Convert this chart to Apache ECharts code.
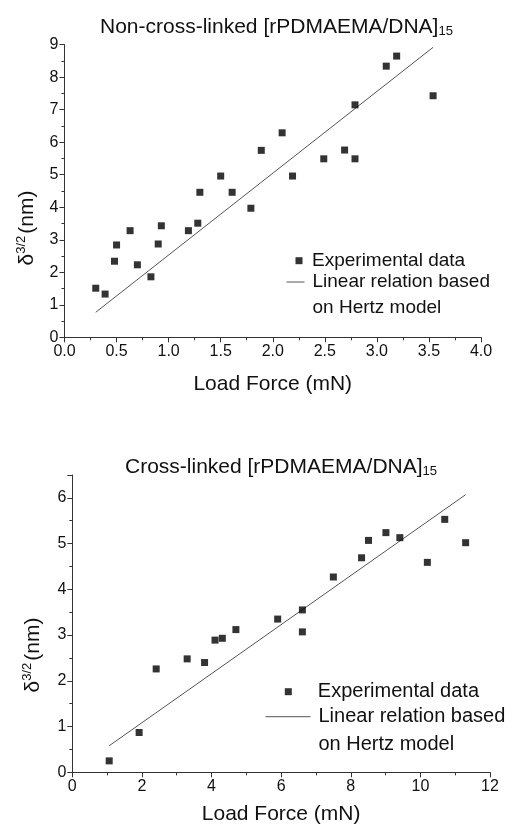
<!DOCTYPE html>
<html>
<head>
<meta charset="utf-8">
<script src="https://cdn.jsdelivr.net/npm/echarts@6/dist/echarts.min.js"></script>
<style>
html,body{margin:0;padding:0;background:#fff;}
#c{width:512px;height:829px;}
</style>
</head>
<body>
<div id="c"></div>
<script>
// Top panel: Non-cross-linked
const topLoad = [0.30,0.39,0.48,0.50,0.63,0.70,0.83,0.90,0.93,1.19,1.28,1.30,1.50,1.61,1.79,1.89,2.09,2.19,2.49,2.69,2.79,2.79,3.09,3.19,3.54];
const topDelta = [1.51,1.33,2.34,2.84,3.28,2.23,1.86,2.87,3.43,3.28,3.51,4.46,4.96,4.46,3.97,5.75,6.29,4.96,5.49,5.76,5.49,7.15,8.34,8.65,7.43];
const topFitLoad = [0.30,3.54];
const topFitDelta = [0.77,8.92];
// Bottom panel: Cross-linked
const botLoad = [1.06,1.92,2.41,3.30,3.80,4.10,4.31,4.70,5.90,6.61,6.61,7.50,8.31,8.51,9.01,9.41,10.2,10.7,11.3];
const botDelta = [0.25,0.87,2.26,2.48,2.40,2.89,2.93,3.12,3.35,3.55,3.07,4.27,4.69,5.07,5.24,5.13,4.59,5.53,5.02];
const botFitLoad = [1.06,11.3];
const botFitDelta = [0.58,6.07];

const titles = ['Non-cross-linked [rPDMAEMA/DNA]', 'Cross-linked [rPDMAEMA/DNA]'];
const titleSub = '15';
const xName = 'Load Force (mN)';
const seriesNames = ['Experimental data', 'Linear relation based on Hertz model'];

const FONT = 'Liberation Sans, Arial, sans-serif';
const zip = (a, b) => a.map((v, i) => [v, b[i]]);

function xAxis(gi, max, interval, gap, fmt) {
  return {
    type: 'value', gridIndex: gi, min: 0, max: max, interval: interval,
    name: xName, nameLocation: 'middle', nameGap: gap,
    nameTextStyle: {fontFamily: FONT, fontSize: 21, color: '#111'},
    axisLine: {lineStyle: {color: '#333', width: 1}},
    axisTick: {length: 5, lineStyle: {color: '#333'}},
    minorTick: {show: true, splitNumber: 2, length: 3, lineStyle: {color: '#333'}},
    splitLine: {show: false},
    axisLabel: {fontFamily: FONT, fontSize: 16, color: '#111', margin: 6, formatter: fmt}
  };
}
function yAxis(gi, max) {
  return {
    type: 'value', gridIndex: gi, min: 0, max: max, interval: 1,
    axisLine: {show: true, lineStyle: {color: '#333', width: 1}},
    axisTick: {show: true, length: 5, lineStyle: {color: '#333'}},
    minorTick: {show: true, splitNumber: 2, length: 3, lineStyle: {color: '#333'}},
    splitLine: {show: false},
    axisLabel: {fontFamily: FONT, fontSize: 16, color: '#111', margin: 6,
      formatter: v => (Math.abs(v - Math.round(v)) < 1e-9 ? String(Math.round(v)) : '')}
  };
}
function scatter(gi, name, data) {
  return {type: 'scatter', name: name, xAxisIndex: gi, yAxisIndex: gi, data: data,
    symbol: 'rect', symbolSize: 7, itemStyle: {color: '#000'}, z: 3};
}
function fit(gi, name, data) {
  return {type: 'line', name: name, xAxisIndex: gi, yAxisIndex: gi, data: data,
    symbol: 'none', lineStyle: {color: '#555', width: 1}, itemStyle: {color: '#555'}, z: 2};
}
// legend for the scatter entry
function legendPts(left, top, fs, lh, padLeft) {
  return {
    orient: 'vertical', left: left, top: top, itemWidth: 7, itemHeight: 7,
    padding: 0, selectedMode: false,
    data: [{name: seriesNames[0], icon: 'rect'}],
    textStyle: {fontFamily: FONT, fontSize: fs, color: '#111', lineHeight: lh, padding: [0, 0, 0, padLeft]}
  };
}
// legend for the fitted-line entry (two-line text, icon level with first line)
function legendLine(left, top, iw, fs, lh, padLeft) {
  return {
    orient: 'vertical', left: left, top: top, itemWidth: iw, itemHeight: 2,
    padding: 0, selectedMode: false,
    itemStyle: {opacity: 0},
    lineStyle: {color: '#555', width: 1, opacity: 1},
    data: [{name: seriesNames[1]}],
    formatter: n => '\n' + n.replace(' on Hertz', '\non Hertz'),
    textStyle: {fontFamily: FONT, fontSize: fs, color: '#111', lineHeight: lh, padding: [0, 0, 0, padLeft]}
  };
}
function titleRich(text, left, top) {
  return {
    text: '{t|' + text + '}{s|' + titleSub + '}', left: left, top: top, padding: 0,
    textStyle: {fontWeight: 'normal', rich: {
      t: {fontFamily: FONT, fontSize: 21, fontWeight: 'normal', color: '#111', lineHeight: 22},
      s: {fontFamily: FONT, fontSize: 13, fontWeight: 'normal', color: '#111', lineHeight: 12, padding: [26, 0, 0, 0], verticalAlign: 'bottom'}
    }}
  };
}
function yName(x, y) {
  return {
    type: 'text', x: x, y: y, rotation: Math.PI / 2,
    style: {
      text: '{d|δ}{s|3/2}{n|(nm)}', align: 'center', verticalAlign: 'middle',
      rich: {
        d: {fontFamily: FONT, fontSize: 21, fill: '#111', lineHeight: 24},
        s: {fontFamily: FONT, fontSize: 13, fill: '#111', lineHeight: 24, padding: [0, 2, 12, 0]},
        n: {fontFamily: FONT, fontSize: 21, fill: '#111', lineHeight: 24}
      }
    }
  };
}

const chart = echarts.init(document.getElementById('c'), null, {renderer: 'canvas'});
chart.setOption({
  backgroundColor: '#fff',
  animation: false,
  title: [titleRich(titles[0], 100, 16), titleRich(titles[1], 125, 456)],
  grid: [
    {left: 64.5, right: 31, top: 44.7, bottom: 491.7},
    {left: 72.3, right: 22, top: 475, bottom: 56.7}
  ],
  xAxis: [
    xAxis(0, 4, 0.5, 36, v => v.toFixed(1)),
    xAxis(1, 12, 2, 31, v => String(v))
  ],
  yAxis: [yAxis(0, 9), yAxis(1, 6.5)],
  legend: [
    legendPts(295.5, 248.7, 19, 24, 4.5),
    legendLine(286, 243, 18, 19, 26, 3),
    legendPts(284.8, 679.7, 20, 24, 21),
    legendLine(265, 674.7, 45, 20, 28, 3)
  ],
  series: [
    scatter(0, seriesNames[0], zip(topLoad, topDelta)),
    fit(0, seriesNames[1], zip(topFitLoad, topFitDelta)),
    scatter(1, seriesNames[0], zip(botLoad, botDelta)),
    fit(1, seriesNames[1], zip(botFitLoad, botFitDelta))
  ],
  graphic: [yName(27, 228), yName(33, 655)]
});
</script>
</body>
</html>
